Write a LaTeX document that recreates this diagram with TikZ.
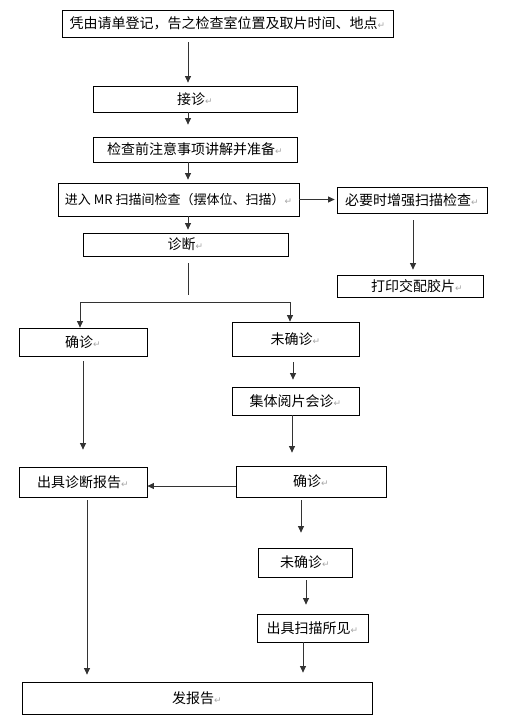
\documentclass[tikz,border=0pt]{standalone}
\usepackage{fontspec}
\setmainfont{Noto Sans CJK SC}
\newfontfamily\symfont{DejaVu Sans}
\usetikzlibrary{arrows.meta}
% paragraph mark as printed after each text
\newcommand{\ret}{{\symfont\fontsize{9}{9}\selectfont\color{black!35}↵}}

\begin{document}
\begin{tikzpicture}[x=1pt,y=-1pt]
    \tikzstyle{box}=[draw, line width=0.8pt, inner sep=0pt,
    font=\fontsize{14}{16}\selectfont]
    \tikzstyle{arr}=[-{Triangle[width=6pt,length=6.5pt]}, line width=0.8pt, draw=black!80]
    \tikzstyle{line}=[line width=0.8pt, draw=black!80]
    \useasboundingbox (0,0) rectangle (510,726);
    \node[box, minimum width=331, minimum height=27] (reg) at (227.5,23.5) {凭由请单登记，告之检查室位置及取片时间、地点\ret};
    \node[box, minimum width=204, minimum height=26] (jz) at (195,99) {接诊\ret};
    \node[box, minimum width=204, minimum height=25] (prep) at (195,149.5) {检查前注意事项讲解并准备\ret};
    \node[box, minimum width=241, minimum height=33, font=\fontsize{13}{15}\selectfont] (scan) at (178.5,199.5) {进入 MR 扫描间检查（摆体位、扫描）\ret};
    \node[box, minimum width=150, minimum height=26] (enh) at (412,200) {必要时增强扫描检查\ret};
    \node[box, minimum width=205, minimum height=23] (diag) at (185.5,244.5) {诊断\ret};
    \node[box, minimum width=146, minimum height=22] (prt) at (410,286) {\hspace*{14pt}打印交配胶片\ret};
    \node[box, minimum width=128, minimum height=28] (ok1) at (83,342) {确诊\ret};
    \node[box, minimum width=127, minimum height=34] (no1) at (295.5,339) {未确诊\ret};
    \node[box, minimum width=127, minimum height=28] (cons) at (295.5,401) {集体阅片会诊\ret};
    \node[box, minimum width=128, minimum height=30] (rep) at (83,482) {出具诊断报告\ret};
    \node[box, minimum width=150, minimum height=31] (ok2) at (311,481.5) {确诊\ret};
    \node[box, minimum width=94, minimum height=29] (no2) at (305,562.5) {未确诊\ret};
    \node[box, minimum width=111, minimum height=28] (find) at (312.5,628) {出具扫描所见\ret};
    \node[box, minimum width=350, minimum height=32] (send) at (197,698) {发报告\ret};
    \coordinate (split) at (188,302);
    % main column
    \draw[arr, shorten <=5, shorten >=3] (reg.south -| 188,0) -- (jz.north -| 188,0);
    \draw[arr, shorten >=12] (jz.south -| 188,0) -- (prep.north -| 188,0);
    \draw[arr, shorten >=3] (prep.south -| 188,0) -- (scan.north -| 188,0);
    \draw[arr, shorten >=2] (scan.east) -- (enh.west |- scan.east);
    \draw[arr, shorten >=3] (scan.south -| 188,0) -- (diag.north -| 188,0);
    \draw[arr, shorten <=7, shorten >=5] (enh.south -| 413,0) -- (prt.north -| 413,0);
    % branch after diagnosis
    \draw[line] ([yshift=-7]diag.south -| split) -- ([yshift=7]split);
    \draw[arr] (split) -| (ok1.north -| 80,0);
    \draw[arr] (split) -| (no1.north -| 290,0);
    \draw[arr, shorten <=5, shorten >=17] (ok1.south) -- (rep.north);
    \draw[arr, shorten <=6, shorten >=7] (no1.south -| 293,0) -- (cons.north -| 293,0);
    \draw[arr, shorten >=13] (cons.south -| 292,0) -- (ok2.north -| 292,0);
    \draw[arr] (ok2.west |- 0,486) -- (rep.east |- 0,486);
    \draw[arr, shorten <=3, shorten >=7] (rep.south -| 87,0) -- (send.north -| 87,0);
    \draw[arr, shorten <=3, shorten >=15] (ok2.south -| 301,0) -- (no2.north -| 301,0);
    \draw[arr, shorten <=3, shorten >=9] (no2.south -| 306,0) -- (find.north -| 306,0);
    \draw[arr, shorten >=9] (find.south -| 303,0) -- (send.north -| 303,0);
\end{tikzpicture}
\end{document}
